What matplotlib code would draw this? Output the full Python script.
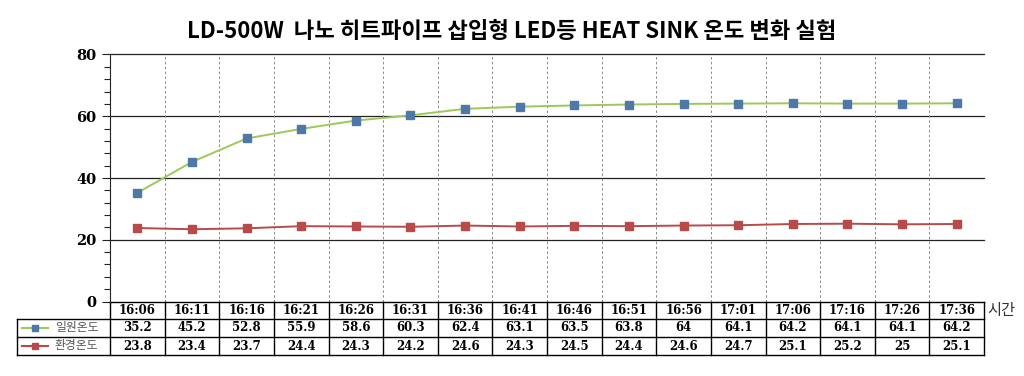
import matplotlib
matplotlib.use("Agg")
import matplotlib.pyplot as plt
from matplotlib.transforms import blended_transform_factory
from matplotlib.lines import Line2D
from matplotlib.ticker import MultipleLocator

plt.rcParams['font.family'] = ['Noto Sans CJK KR', 'DejaVu Sans']

times = ["16:06", "16:11", "16:16", "16:21", "16:26", "16:31", "16:36", "16:41",
         "16:46", "16:51", "16:56", "17:01", "17:06", "17:16", "17:26", "17:36"]
series_names = ["일원온도", "환경온도"]
heat_sink = [35.2, 45.2, 52.8, 55.9, 58.6, 60.3, 62.4, 63.1,
             63.5, 63.8, 64, 64.1, 64.2, 64.1, 64.1, 64.2]
ambient = [23.8, 23.4, 23.7, 24.4, 24.3, 24.2, 24.6, 24.3,
           24.5, 24.4, 24.6, 24.7, 25.1, 25.2, 25, 25.1]
heat_sink_lbl = ["35.2", "45.2", "52.8", "55.9", "58.6", "60.3", "62.4", "63.1",
                 "63.5", "63.8", "64", "64.1", "64.2", "64.1", "64.1", "64.2"]
ambient_lbl = ["23.8", "23.4", "23.7", "24.4", "24.3", "24.2", "24.6", "24.3",
               "24.5", "24.4", "24.6", "24.7", "25.1", "25.2", "25", "25.1"]
title = "LD-500W  나노 히트파이프 삽입형 LED등 HEAT SINK 온도 변화 실험"

W, H = 1024, 376
fig = plt.figure(figsize=(W / 100, H / 100), dpi=100)
left, right, top, bottom = 110, 984, 54.5, 301.5
ax = fig.add_axes([left / W, 1 - bottom / H, (right - left) / W, (bottom - top) / H])

n = len(times)
x = list(range(n))
ax.set_xlim(-0.5, n - 0.5)
ax.set_ylim(0, 80)

green = "#9bc95a"
blue = "#4f77a8"
red = "#b94a4a"
ax.plot(x, heat_sink, color=green, lw=1.4, marker="s", ms=5.5,
        mfc=blue, mec=blue, zorder=3)
ax.plot(x, ambient, color=red, lw=1.4, marker="s", ms=5.5,
        mfc=red, mec=red, zorder=3)

# gridlines
for yv in [20, 40, 60, 80]:
    ax.axhline(yv, color="#222222", lw=0.9, zorder=1, clip_on=False)
for i in range(n):
    ax.axvline(i + 0.5, color="#888888", lw=0.7, ls=(0, (2.5, 2.5)), zorder=1)

for s in ["top", "right", "bottom"]:
    ax.spines[s].set_visible(False)
ax.spines["left"].set_color("#222222")
ax.set_xticks([])
ax.yaxis.set_major_locator(MultipleLocator(20))
ax.yaxis.set_minor_locator(MultipleLocator(4))
ax.tick_params(axis="y", which="major", length=6, width=0.8, colors="#222222", pad=4)
ax.tick_params(axis="y", which="minor", length=4, width=0.8, colors="#222222")
for lab in ax.get_yticklabels():
    lab.set_fontfamily("DejaVu Serif")
    lab.set_fontweight("bold")
    lab.set_fontsize(10.5)
    lab.set_color("black")

# table drawn below axes
trans = blended_transform_factory(ax.transData, fig.transFigure)
ftrans = fig.transFigure

def fy(py):
    return 1 - py / H

row_edges = [301.5, 318.5, 337, 355]
lw_t = 1.0
for k, py in enumerate(row_edges):
    if k == 0:
        ax.add_line(Line2D([-0.5, n - 0.5], [fy(py)] * 2, transform=trans, color="black",
                           lw=lw_t, clip_on=False))
    else:
        fig.add_artist(Line2D([17 / W, right / W], [fy(py)] * 2, transform=ftrans,
                              color="black", lw=lw_t))
for i in range(n + 1):
    ax.add_line(Line2D([i - 0.5, i - 0.5], [fy(row_edges[0]), fy(row_edges[-1])],
                       transform=trans, color="black", lw=lw_t, clip_on=False))
fig.add_artist(Line2D([17 / W, 17 / W], [fy(row_edges[1]), fy(row_edges[-1])],
                      transform=ftrans, color="black", lw=lw_t))

tfont = dict(fontfamily="DejaVu Serif", fontweight="bold", fontsize=8.5, color="black",
             ha="center", va="center")
rows = [times, heat_sink_lbl, ambient_lbl]
for r, labels in enumerate(rows):
    yc = fy((row_edges[r] + row_edges[r + 1]) / 2)
    for i, t in enumerate(labels):
        ax.text(i, yc, t, transform=trans, clip_on=False, **tfont)

fig.text(987 / W, fy(310), "시간", fontsize=11, color="#333333", ha="left", va="center")

for r, (name, lc, mc) in enumerate([(series_names[0], green, blue),
                                   (series_names[1], red, red)]):
    yc = fy((row_edges[r + 1] + row_edges[r + 2]) / 2)
    fig.add_artist(Line2D([22 / W, 48 / W], [yc, yc], transform=ftrans, color=lc, lw=1.5))
    fig.add_artist(Line2D([35 / W], [yc], transform=ftrans, marker="s", ms=4.5,
                          mfc=mc, mec=mc, ls="none"))
    fig.text(55 / W, yc, name, fontsize=8.5, color="#555555", ha="left", va="center")

fig.text(512 / W, fy(31), title, fontsize=16, fontweight="bold", ha="center", va="center",
         color="black")

fig.savefig("out.png", dpi=100, facecolor="white")
